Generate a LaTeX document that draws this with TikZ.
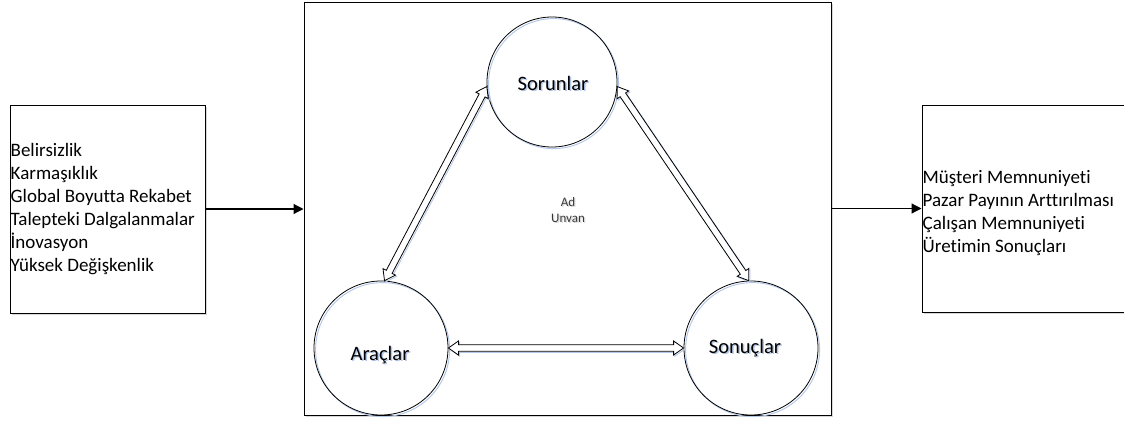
\documentclass[tikz,border=0pt]{standalone}
\usepackage{fontspec}
\setmainfont{Carlito}[Ligatures={NoCommon},RawFeature={-liga;-clig;-calt}]
\usetikzlibrary{calc,arrows.meta}

\definecolor{shadeblue}{RGB}{178,198,232}
\definecolor{shadegray}{RGB}{215,215,215}
\definecolor{notegray}{RGB}{55,55,55}

% hollow double-headed block arrow between two named coordinates
\newcommand\hollowarrow[3][]{%
  \draw[#1] (#2)
    -- ($(#2)!10pt!(#3)!7pt!90:(#3)$)
    -- ($(#2)!10pt!(#3)!3.3pt!90:(#3)$)
    -- ($(#3)!10pt!(#2)!3.3pt!-90:(#2)$)
    -- ($(#3)!10pt!(#2)!7pt!-90:(#2)$)
    -- (#3)
    -- ($(#3)!10pt!(#2)!7pt!90:(#2)$)
    -- ($(#3)!10pt!(#2)!3.3pt!90:(#2)$)
    -- ($(#2)!10pt!(#3)!3.3pt!-90:(#3)$)
    -- ($(#2)!10pt!(#3)!7pt!-90:(#3)$)
    -- cycle;}

\begin{document}
\begin{tikzpicture}[x=1pt,y=-1pt,
  panel/.style={draw=black, line width=1pt, fill=white, rectangle, inner sep=0pt},
  ring/.style={draw=black, line width=0.8pt, circle, inner sep=0pt},
  ringshade/.style={draw=shadeblue, line width=0.9pt, transform canvas={xshift=1.6pt,yshift=-1.6pt}},
  listtext/.style={font=\fontsize{19}{23}\selectfont, align=left, inner sep=0pt, anchor=west},
  lab/.style={font=\fontsize{20.5}{24}\selectfont, inner sep=0pt},
  labshade/.style={lab, text=shadeblue, transform canvas={xshift=1.5pt,yshift=-1.5pt}},
  note/.style={font=\fontsize{13}{16}\selectfont, align=center, inner sep=0pt, text=notegray},
  noteshade/.style={note, text=shadegray, transform canvas={xshift=1.3pt,yshift=-1.3pt}},
  flow/.style={draw=black, line width=1.2pt, -{Triangle[length=10pt,width=10pt]}},
  blockline/.style={draw=black, line width=0.8pt, fill=white, line join=miter},
  blockshade/.style={draw=shadeblue, line width=0.8pt, transform canvas={xshift=1.2pt,yshift=-1.2pt}},
]
\useasboundingbox (0,0) rectangle (1124,421);
\fill[white] (0,0) rectangle (1124,421);
\clip (0,0) rectangle (1124,421);

% grey drop shadows behind the three panels
\fill[shadegray] (12,107) rectangle (207,315);
\fill[shadegray] (306,4) rectangle (833,417);
\fill[shadegray] (924,107) rectangle (1150,314);

% panels
\node[panel, minimum width=195pt, minimum height=208pt] (inbox) at (107.5,209) {};
\node[panel, minimum width=527pt, minimum height=413pt] (mid) at (567.5,208.5) {};
\node[panel, minimum width=226pt, minimum height=207pt] (outbox) at (1035,208.5) {};

% panel texts
\node[listtext] (intext) at ([xshift=1pt]inbox.west) {Belirsizlik\\Karmaşıklık\\Global Boyutta Rekabet\\Talepteki Dalgalanmalar\\İnovasyon\\Yüksek Değişkenlik};
\node[listtext] (outtext) at ([xshift=1pt,yshift=-5pt]outbox.west) {Müşteri Memnuniyeti\\Pazar Payının Arttırılması\\Çalışan Memnuniyeti\\Üretimin Sonuçları};

% flow arrows between panels
\draw[flow] (inbox.east) -- (inbox.east -| mid.west);
\draw[flow] (mid.east |- outbox.west) -- (outbox.west);

% circles with their pale offset outlines
\draw[ringshade] (552,82) circle (65pt);
\draw[ringshade] (381,348) circle (67pt);
\draw[ringshade] (751,348) circle (67pt);
\node[ring, minimum size=130pt] (s) at (552,82) {};
\node[ring, minimum size=134pt] (a) at (381,348) {};
\node[ring, minimum size=134pt] (c) at (751,348) {};

% circle labels
\node[labshade] (sshade) at (553,83) {Sorunlar};
\node[lab] (slab) at (553,83) {Sorunlar};
\node[labshade] (ashade) at (380,355) {Araçlar};
\node[lab] (alab) at (380,355) {Araçlar};
\node[labshade] (cshade) at (745,348) {Sonuçlar};
\node[lab] (clab) at (745,348) {Sonuçlar};

% centre note
\node[noteshade] (noteshade) at (568,210) {Ad\\Unvan};
\node[note] (notetext) at (568,210) {Ad\\Unvan};

% hollow two-way arrows between the circles
\coordinate (sa) at (s.184);
\coordinate (as) at (a.87);
\coordinate (sc) at (s.-4);
\coordinate (cs) at (c.92);
\coordinate (ac) at (a.east);
\coordinate (ca) at (c.west);
\hollowarrow[blockshade]{sa}{as}
\hollowarrow[blockline]{sa}{as}
\hollowarrow[blockshade]{sc}{cs}
\hollowarrow[blockline]{sc}{cs}
\hollowarrow[blockshade]{ac}{ca}
\hollowarrow[blockline]{ac}{ca}
\end{tikzpicture}
\end{document}
